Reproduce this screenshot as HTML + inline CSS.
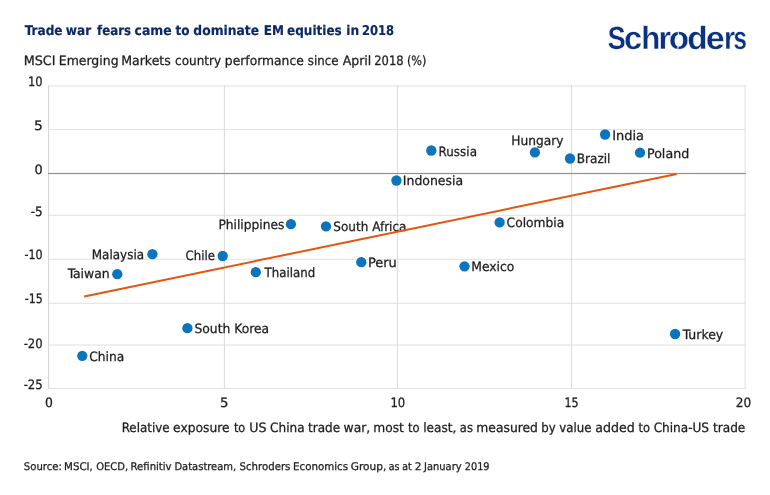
<!DOCTYPE html>
<html lang="en">
<head>
<meta charset="utf-8">
<title>Trade war fears came to dominate EM equities in 2018</title>
<style>
html,body{margin:0;padding:0;background:#fff;}
body{width:770px;height:495px;overflow:hidden;}
svg{display:block;}
text{font-family:"DejaVu Sans Condensed", "DejaVu Sans", "Liberation Sans", sans-serif;fill:#1c1c1c;stroke:#1c1c1c;stroke-width:0.25px;paint-order:stroke;text-rendering:geometricPrecision;}
.t{font-size:12.9px;}
.src{font-size:10.6px;}
.title{font-size:13.5px;font-weight:bold;fill:#0a2865;stroke:#0a2865;stroke-width:0.15px;}
.logo{font-family:"Liberation Sans",sans-serif;font-weight:bold;font-size:32.2px;fill:#0a3282;stroke:#fff;stroke-width:0.3px;paint-order:normal;}
</style>
</head>
<body>
<svg width="770" height="495" viewBox="0 0 770 495">
<rect x="0" y="0" width="770" height="495" fill="#ffffff"/>
<g>
<rect x="48.1" y="85.35" width="697.6" height="1.1" fill="#e3e3e3"/>
<rect x="48.1" y="128.95" width="697.6" height="1.1" fill="#e3e3e3"/>
<rect x="48.1" y="214.75" width="697.6" height="1.1" fill="#e3e3e3"/>
<rect x="48.1" y="258.75" width="697.6" height="1.1" fill="#e3e3e3"/>
<rect x="48.1" y="302.75" width="697.6" height="1.1" fill="#e3e3e3"/>
<rect x="48.1" y="344.45" width="697.6" height="1.1" fill="#e3e3e3"/>
<rect x="48.1" y="387.95" width="697.6" height="1.1" fill="#e3e3e3"/>
<rect x="48.05" y="85.35" width="1.1" height="303.7" fill="#d6d6d6"/>
<rect x="223.85" y="85.35" width="1.1" height="303.7" fill="#dcdcdc"/>
<rect x="396.95" y="85.35" width="1.1" height="303.7" fill="#dcdcdc"/>
<rect x="570.95" y="85.35" width="1.1" height="303.7" fill="#dcdcdc"/>
<rect x="744.55" y="85.35" width="1.1" height="303.7" fill="#e3e3e3"/>
<rect x="48.1" y="172.9" width="697.6" height="1.2" fill="#909090"/>
</g>
<g id="y-axis-labels">
<text class="t" x="27.90" y="86" textLength="14.68" lengthAdjust="spacingAndGlyphs">10</text>
<text class="t" x="34.05" y="130" textLength="8.86" lengthAdjust="spacingAndGlyphs">5</text>
<text class="t" x="34.50" y="174" textLength="8.20" lengthAdjust="spacingAndGlyphs">0</text>
<text class="t" x="30.75" y="216" textLength="12.01" lengthAdjust="spacingAndGlyphs">-5</text>
<text class="t" x="24.55" y="259" textLength="18.13" lengthAdjust="spacingAndGlyphs">-10</text>
<text class="t" x="24.75" y="303" textLength="18.00" lengthAdjust="spacingAndGlyphs">-15</text>
<text class="t" x="23.65" y="348" textLength="19.04" lengthAdjust="spacingAndGlyphs">-20</text>
<text class="t" x="23.65" y="389" textLength="19.10" lengthAdjust="spacingAndGlyphs">-25</text>
</g>
<g id="x-axis-labels">
<text class="t" x="44.90" y="407" textLength="7.90" lengthAdjust="spacingAndGlyphs">0</text>
<text class="t" x="219.95" y="407" textLength="8.46" lengthAdjust="spacingAndGlyphs">5</text>
<text class="t" x="390.40" y="407" textLength="14.88" lengthAdjust="spacingAndGlyphs">10</text>
<text class="t" x="564.50" y="407" textLength="14.18" lengthAdjust="spacingAndGlyphs">15</text>
<text class="t" x="735.70" y="407" textLength="15.40" lengthAdjust="spacingAndGlyphs">20</text>
</g>
<g id="point-labels">
<text class="t" x="89.30" y="360.6" textLength="34.96" lengthAdjust="spacingAndGlyphs">China</text>
<text class="t" x="67.65" y="278.2" textLength="41.99" lengthAdjust="spacingAndGlyphs">Taiwan</text>
<text class="t" x="91.75" y="258.5" textLength="52.32" lengthAdjust="spacingAndGlyphs">Malaysia</text>
<text class="t" x="194.40" y="332.9" textLength="74.76" lengthAdjust="spacingAndGlyphs">South Korea</text>
<text class="t" x="185.55" y="260.0" textLength="29.38" lengthAdjust="spacingAndGlyphs">Chile</text>
<text class="t" x="264.55" y="276.7" textLength="50.59" lengthAdjust="spacingAndGlyphs">Thailand</text>
<text class="t" x="218.40" y="229.1" textLength="66.06" lengthAdjust="spacingAndGlyphs">Philippines</text>
<text class="t" x="333.30" y="230.9" textLength="73.16" lengthAdjust="spacingAndGlyphs">South Africa</text>
<text class="t" x="367.90" y="266.9" textLength="28.91" lengthAdjust="spacingAndGlyphs">Peru</text>
<text class="t" x="402.80" y="185.1" textLength="60.38" lengthAdjust="spacingAndGlyphs">Indonesia</text>
<text class="t" x="438.55" y="155.5" textLength="38.43" lengthAdjust="spacingAndGlyphs">Russia</text>
<text class="t" x="471.20" y="270.5" textLength="43.26" lengthAdjust="spacingAndGlyphs">Mexico</text>
<text class="t" x="506.60" y="227.3" textLength="57.66" lengthAdjust="spacingAndGlyphs">Colombia</text>
<text class="t" x="511.20" y="144.5" textLength="52.30" lengthAdjust="spacingAndGlyphs">Hungary</text>
<text class="t" x="576.85" y="163.3" textLength="33.63" lengthAdjust="spacingAndGlyphs">Brazil</text>
<text class="t" x="612.20" y="139.5" textLength="31.91" lengthAdjust="spacingAndGlyphs">India</text>
<text class="t" x="647.00" y="157.6" textLength="42.19" lengthAdjust="spacingAndGlyphs">Poland</text>
<text class="t" x="682.75" y="338.7" textLength="40.55" lengthAdjust="spacingAndGlyphs">Turkey</text>
</g>
<line x1="84.2" y1="296.4" x2="676.7" y2="174.0" stroke="#e8540c" stroke-width="2"/>
<g id="points">
<circle cx="82.3" cy="355.8" r="5.15" fill="#0b74bd"/>
<circle cx="117.3" cy="274.2" r="5.15" fill="#0b74bd"/>
<circle cx="152.4" cy="254.2" r="5.15" fill="#0b74bd"/>
<circle cx="187.4" cy="328.2" r="5.15" fill="#0b74bd"/>
<circle cx="222.7" cy="256.0" r="5.15" fill="#0b74bd"/>
<circle cx="255.8" cy="272.2" r="5.15" fill="#0b74bd"/>
<circle cx="290.9" cy="224.2" r="5.15" fill="#0b74bd"/>
<circle cx="326.0" cy="226.4" r="5.15" fill="#0b74bd"/>
<circle cx="361.3" cy="262.2" r="5.15" fill="#0b74bd"/>
<circle cx="396.4" cy="180.5" r="5.15" fill="#0b74bd"/>
<circle cx="431.3" cy="150.5" r="5.15" fill="#0b74bd"/>
<circle cx="464.5" cy="266.3" r="5.15" fill="#0b74bd"/>
<circle cx="499.6" cy="222.4" r="5.15" fill="#0b74bd"/>
<circle cx="534.9" cy="152.4" r="5.15" fill="#0b74bd"/>
<circle cx="570.0" cy="158.5" r="5.15" fill="#0b74bd"/>
<circle cx="605.1" cy="134.5" r="5.15" fill="#0b74bd"/>
<circle cx="640.0" cy="152.7" r="5.15" fill="#0b74bd"/>
<circle cx="675.1" cy="334.0" r="5.15" fill="#0b74bd"/>
</g>
<text class="title" y="34.9" xml:space="default"><tspan x="24.65" textLength="37.99" lengthAdjust="spacingAndGlyphs">Trade</tspan> <tspan x="65.75" textLength="25.38" lengthAdjust="spacingAndGlyphs">war</tspan> <tspan x="97.00" textLength="34.04" lengthAdjust="spacingAndGlyphs">fears</tspan> <tspan x="134.55" textLength="37.09" lengthAdjust="spacingAndGlyphs">came</tspan> <tspan x="175.40" textLength="14.02" lengthAdjust="spacingAndGlyphs">to</tspan> <tspan x="193.35" textLength="65.69" lengthAdjust="spacingAndGlyphs">dominate</tspan> <tspan x="263.75" textLength="20.16" lengthAdjust="spacingAndGlyphs">EM</tspan> <tspan x="287.05" textLength="54.69" lengthAdjust="spacingAndGlyphs">equities</tspan> <tspan x="346.25" textLength="12.90" lengthAdjust="spacingAndGlyphs">in</tspan> <tspan x="361.95" textLength="32.06" lengthAdjust="spacingAndGlyphs">2018</tspan></text>
<text class="t" y="64.8" xml:space="default"><tspan x="23.70" textLength="31.81" lengthAdjust="spacingAndGlyphs">MSCI</tspan> <tspan x="58.80" textLength="59.78" lengthAdjust="spacingAndGlyphs">Emerging</tspan> <tspan x="121.20" textLength="49.66" lengthAdjust="spacingAndGlyphs">Markets</tspan> <tspan x="175.05" textLength="46.04" lengthAdjust="spacingAndGlyphs">country</tspan> <tspan x="224.85" textLength="78.90" lengthAdjust="spacingAndGlyphs">performance</tspan> <tspan x="307.75" textLength="30.88" lengthAdjust="spacingAndGlyphs">since</tspan> <tspan x="342.75" textLength="28.58" lengthAdjust="spacingAndGlyphs">April</tspan> <tspan x="374.30" textLength="29.30" lengthAdjust="spacingAndGlyphs">2018</tspan> <tspan x="406.95" textLength="19.45" lengthAdjust="spacingAndGlyphs">(%)</tspan></text>
<text class="t" y="432.3" xml:space="default"><tspan x="121.65" textLength="48.00" lengthAdjust="spacingAndGlyphs">Relative</tspan> <tspan x="173.05" textLength="56.59" lengthAdjust="spacingAndGlyphs">exposure</tspan> <tspan x="233.90" textLength="11.31" lengthAdjust="spacingAndGlyphs">to</tspan> <tspan x="249.25" textLength="17.21" lengthAdjust="spacingAndGlyphs">US</tspan> <tspan x="270.05" textLength="34.50" lengthAdjust="spacingAndGlyphs">China</tspan> <tspan x="308.00" textLength="32.03" lengthAdjust="spacingAndGlyphs">trade</tspan> <tspan x="343.55" textLength="26.77" lengthAdjust="spacingAndGlyphs">war,</tspan> <tspan x="373.35" textLength="30.54" lengthAdjust="spacingAndGlyphs">most</tspan> <tspan x="408.10" textLength="11.50" lengthAdjust="spacingAndGlyphs">to</tspan> <tspan x="423.15" textLength="33.23" lengthAdjust="spacingAndGlyphs">least,</tspan> <tspan x="459.80" textLength="13.13" lengthAdjust="spacingAndGlyphs">as</tspan> <tspan x="476.35" textLength="61.52" lengthAdjust="spacingAndGlyphs">measured</tspan> <tspan x="541.25" textLength="14.43" lengthAdjust="spacingAndGlyphs">by</tspan> <tspan x="559.30" textLength="32.13" lengthAdjust="spacingAndGlyphs">value</tspan> <tspan x="595.20" textLength="39.46" lengthAdjust="spacingAndGlyphs">added</tspan> <tspan x="638.40" textLength="11.52" lengthAdjust="spacingAndGlyphs">to</tspan> <tspan x="653.65" textLength="55.39" lengthAdjust="spacingAndGlyphs">China-US</tspan> <tspan x="713.00" textLength="32.33" lengthAdjust="spacingAndGlyphs">trade</tspan></text>
<text class="src" y="469.9" xml:space="default"><tspan x="23.85" textLength="38.10" lengthAdjust="spacingAndGlyphs">Source:</tspan> <tspan x="64.05" textLength="28.84" lengthAdjust="spacingAndGlyphs">MSCI,</tspan> <tspan x="96.15" textLength="31.90" lengthAdjust="spacingAndGlyphs">OECD,</tspan> <tspan x="130.55" textLength="41.04" lengthAdjust="spacingAndGlyphs">Refinitiv</tspan> <tspan x="174.45" textLength="61.76" lengthAdjust="spacingAndGlyphs">Datastream,</tspan> <tspan x="239.55" textLength="50.89" lengthAdjust="spacingAndGlyphs">Schroders</tspan> <tspan x="293.05" textLength="55.00" lengthAdjust="spacingAndGlyphs">Economics</tspan> <tspan x="350.85" textLength="35.50" lengthAdjust="spacingAndGlyphs">Group,</tspan> <tspan x="388.75" textLength="10.86" lengthAdjust="spacingAndGlyphs">as</tspan> <tspan x="402.15" textLength="9.42" lengthAdjust="spacingAndGlyphs">at</tspan> <tspan x="414.70" textLength="6.83" lengthAdjust="spacingAndGlyphs">2</tspan> <tspan x="424.05" textLength="37.57" lengthAdjust="spacingAndGlyphs">January</tspan> <tspan x="464.80" textLength="24.74" lengthAdjust="spacingAndGlyphs">2019</tspan></text>
<text class="logo" y="49" xml:space="default"><tspan x="607.55" textLength="18.26" lengthAdjust="spacingAndGlyphs">S</tspan><tspan x="624.05" textLength="18.09" lengthAdjust="spacingAndGlyphs">c</tspan><tspan x="641.15" textLength="19.03" lengthAdjust="spacingAndGlyphs">h</tspan><tspan x="658.45" textLength="12.44" lengthAdjust="spacingAndGlyphs">r</tspan><tspan x="668.85" textLength="20.36" lengthAdjust="spacingAndGlyphs">o</tspan><tspan x="687.35" textLength="20.37" lengthAdjust="spacingAndGlyphs">d</tspan><tspan x="705.85" textLength="18.99" lengthAdjust="spacingAndGlyphs">e</tspan><tspan x="724.00" textLength="11.11" lengthAdjust="spacingAndGlyphs">r</tspan><tspan x="733.40" textLength="13.43" lengthAdjust="spacingAndGlyphs">s</tspan></text>
<rect x="677.8" y="32" width="1" height="5.2" fill="#fff"/><rect x="677.5" y="44.8" width="1" height="5.2" fill="#fff"/>
</svg>
</body>
</html>
